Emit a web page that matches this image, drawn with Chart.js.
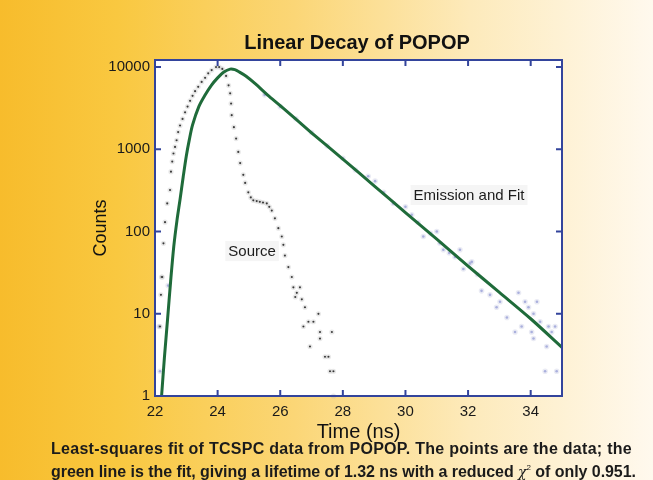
<!DOCTYPE html>
<html>
<head>
<meta charset="utf-8">
<script src="https://cdn.jsdelivr.net/npm/chart.js@4.4.1/dist/chart.umd.min.js"></script>
<style>
    html, body { margin: 0; padding: 0; }
    body {
        width: 653px; height: 480px; overflow: hidden; position: relative;
        background: linear-gradient(90deg, #f7bc2c 0%, #f9c840 18%, #fbd676 45%, #fdeabb 72%, #fff9ee 100%);
        font-family: 'Liberation Sans', Arial, sans-serif;
    }
    #chartWrap { position: absolute; left: 0; top: 0; width: 653px; height: 480px; }
    .title {
        position: absolute; left: 157px; width: 400px; top: 31px; text-align: center;
        font-weight: bold; font-size: 20px; color: #111;
    }
    .caption {
        position: absolute; left: 51px; top: 439px;
        font-weight: bold; font-size: 16px; line-height: 19px; color: #1b1b1b;
    }
    .caption .line { display: inline-block; white-space: nowrap; }
    .chi { font-family: 'DejaVu Serif', serif; font-weight: normal; font-style: italic; font-size: 14px; }
    .caption sup { font-size: 8px; font-weight: normal; vertical-align: 7px; }
</style>
</head>
<body>
<div id="chartWrap"><canvas id="decayChart" width="653" height="480"></canvas></div>
<div class="title">Linear Decay of POPOP</div>
<div class="caption">
    <span class="line" data-w="581">Least-squares fit of TCSPC data from POPOP. The points are the data; the</span><br>
    <span class="line" data-w="585">green line is the fit, giving a lifetime of 1.32 ns with a reduced <span class="chi">χ</span><sup>2</sup> of only 0.951.</span>
</div>

<script>
/* ---- tick labels ---- */
const timeTicks = [22, 24, 26, 28, 30, 32, 34];
const countTicks = [1, 10, 100, 1000, 10000];

/* ---- fitted curve (green) ---- */
const fitTime   = [22.21, 22.3, 22.4, 22.5, 22.6, 22.7, 22.8, 22.9, 23.0, 23.1, 23.2, 23.4, 23.6, 23.8, 24.0, 24.2, 24.4, 24.55, 24.7, 24.9, 25.2, 25.6, 26, 27, 28, 29, 30, 31, 32, 33, 34, 35];
const fitCounts = [1, 2.9, 8.5, 25, 66, 135, 245, 460, 830, 1330, 1980, 3300, 4570, 6000, 7400, 8700, 9450, 9300, 8700, 7800, 6300, 4570, 3400, 1590, 760, 360, 170, 81, 38, 18.2, 8.7, 3.9];

/* ---- instrument response (black dots) ---- */
const sourceTime   = [22.16, 22.19, 22.21, 22.23, 22.27, 22.32, 22.39, 22.48, 22.51, 22.55, 22.59, 22.64, 22.69, 22.74, 22.8, 22.88, 22.96, 23.04, 23.12, 23.2, 23.28, 23.38, 23.49, 23.6, 23.7, 23.81, 23.95, 24.05, 24.15, 24.27, 24.35, 24.4, 24.43, 24.45, 24.52, 24.59, 24.66, 24.72, 24.82, 24.88, 24.98, 25.06, 25.14, 25.25, 25.35, 25.45, 25.57, 25.65, 25.73, 25.83, 25.94, 26.05, 26.1, 26.15, 26.26, 26.37, 26.42, 26.48, 26.53, 26.63, 26.69, 26.74, 26.79, 26.9, 26.95, 27.06, 27.22, 27.27, 27.27, 27.43, 27.54, 27.59, 27.65, 27.7, 27.7];
const sourceCounts = [7, 17, 28, 28, 72, 130, 220, 320, 535, 710, 890, 1070, 1290, 1620, 1950, 2340, 2820, 3310, 3890, 4470, 5100, 5750, 6600, 7400, 8400, 9200, 10000, 10000, 9500, 7800, 6000, 4800, 3600, 2600, 1860, 1350, 930, 680, 490, 390, 300, 260, 240, 235, 230, 225, 220, 200, 180, 145, 110, 87, 69, 51, 37, 28, 21, 16, 18, 21, 15, 7, 12, 8, 4, 8, 10, 6, 5, 3, 3, 2, 6, 2, 1];

/* ---- emission data (faint blue) ---- */
const emissionTime   = [22.13, 22.16, 22.42, 25.5, 26.0, 26.5, 27.0, 27.5, 28.0, 28.4, 28.81, 29.03, 29.3, 29.61, 30.0, 30.2, 30.4, 30.57, 30.8, 31.0, 31.1, 31.21, 31.4, 31.58, 31.74, 31.85, 32.06, 32.12, 32.3, 32.43, 32.7, 32.91, 33.02, 33.24, 33.5, 33.61, 33.71, 33.82, 33.93, 34.03, 34.09, 34.09, 34.2, 34.3, 34.46, 34.51, 34.57, 34.67, 34.78, 34.83];
const emissionCounts = [7, 2, 22, 4600, 3300, 2350, 1600, 1100, 780, 560, 470, 410, 300, 220, 200, 160, 130, 87, 95, 100, 72, 60, 55, 49, 60, 35, 41, 43, 30, 19, 17, 12, 14, 9, 6, 18, 7, 14, 12, 6, 10, 5, 14, 8, 2, 4, 7, 6, 7, 2];

const AXIS_BLUE = '#33449c';
const FONT = "'Liberation Sans', Arial, sans-serif";
const toPoints = (xs, ys) => xs.map((x, i) => ({ x, y: ys[i] }));

// stretch/squeeze each caption line to the width it has in the original
document.querySelectorAll('.caption .line').forEach(el => {
    const target = +el.dataset.w;
    const chars = el.textContent.length;
    el.style.letterSpacing = ((target - el.getBoundingClientRect().width) / chars).toFixed(3) + 'px';
});

// white plot area, box frame with inward ticks, in-plot labels
const framePlugin = {
    id: 'frame',
    beforeDatasetsDraw(chart) {
        const { ctx, chartArea: a } = chart;
        ctx.save();
        ctx.fillStyle = '#ffffff';
        ctx.fillRect(a.left, a.top, a.width, a.height);
        ctx.restore();
    },
    afterDatasetsDraw(chart) {
        const { ctx, scales: { x, y } } = chart;
        ctx.save();
        ctx.font = `15px ${FONT}`;
        ctx.textAlign = 'center';
        ctx.textBaseline = 'middle';
        [['Source', 25.1, 58], ['Emission and Fit', 32.03, 278]].forEach(([txt, tx, ty]) => {
            const px = x.getPixelForValue(tx), py = y.getPixelForValue(ty);
            const w = ctx.measureText(txt).width;
            ctx.fillStyle = 'rgba(236,236,236,0.5)';
            ctx.fillRect(px - w / 2 - 3, py - 10, w + 6, 20);
            ctx.fillStyle = '#1c1c1c';
            ctx.fillText(txt, px, py + 1);
        });
        ctx.restore();
    },
    afterDraw(chart) {
        const { ctx, chartArea: a, scales: { x, y } } = chart;
        const len = 6;
        ctx.save();
        ctx.strokeStyle = AXIS_BLUE;
        ctx.lineWidth = 2;
        ctx.strokeRect(a.left, a.top, a.width, a.height);
        ctx.beginPath();
        timeTicks.forEach(v => {
            const px = x.getPixelForValue(v);
            ctx.moveTo(px, a.bottom); ctx.lineTo(px, a.bottom - len);
            ctx.moveTo(px, a.top); ctx.lineTo(px, a.top + len);
        });
        countTicks.forEach(v => {
            const py = y.getPixelForValue(v);
            ctx.moveTo(a.left, py); ctx.lineTo(a.left + len, py);
            ctx.moveTo(a.right, py); ctx.lineTo(a.right - len, py);
        });
        ctx.stroke();
        ctx.restore();
    }
};

new Chart(document.getElementById('decayChart'), {
    type: 'scatter',
    data: {
        datasets: [
            {
                label: 'Fit',
                data: toPoints(fitTime, fitCounts),
                showLine: true,
                borderColor: '#1f6b3a',
                borderWidth: 3,
                pointRadius: 0,
                tension: 0.3,
                order: 0
            },
            {
                label: 'Source',
                data: toPoints(sourceTime, sourceCounts),
                pointRadius: 1.1,
                pointBackgroundColor: '#1a1a1a',
                pointBorderColor: 'rgba(180,180,180,0.3)',
                pointBorderWidth: 3,
                order: 1
            },
            {
                label: 'Emission',
                data: toPoints(emissionTime, emissionCounts),
                pointRadius: 1.3,
                pointBackgroundColor: 'rgba(125,135,210,0.7)',
                pointBorderColor: 'rgba(185,190,220,0.3)',
                pointBorderWidth: 3,
                order: 2
            }
        ]
    },
    options: {
        responsive: false,
        animation: false,
        clip: false,
        layout: { padding: { left: 88, right: 91, top: 60, bottom: 34 } },
        plugins: { legend: { display: false }, tooltip: { enabled: false } },
        scales: {
            x: {
                type: 'linear',
                min: 22, max: 35,
                afterBuildTicks: s => { s.ticks = timeTicks.map(value => ({ value })); },
                afterFit: s => { s.height = 50; },
                grid: { display: false, drawTicks: false },
                border: { display: false },
                ticks: { color: '#1a1a1a', font: { size: 15, family: FONT }, padding: 7, maxRotation: 0 },
                title: { display: true, text: 'Time (ns)', color: '#111', font: { size: 20, family: FONT }, padding: { top: 0, bottom: 2 } }
            },
            y: {
                type: 'logarithmic',
                min: 1, max: 12200,
                afterBuildTicks: s => { s.ticks = countTicks.map(value => ({ value })); },
                afterFit: s => { s.width = 67; },
                grid: { display: false, drawTicks: false },
                border: { display: false },
                ticks: { color: '#1a1a1a', font: { size: 15, family: FONT }, padding: 5, callback: v => String(v) },
                title: { display: true, text: 'Counts', color: '#111', font: { size: 18, family: FONT }, padding: { top: 2, bottom: 0 } }
            }
        }
    },
    plugins: [framePlugin]
});
</script>
</body>
</html>
